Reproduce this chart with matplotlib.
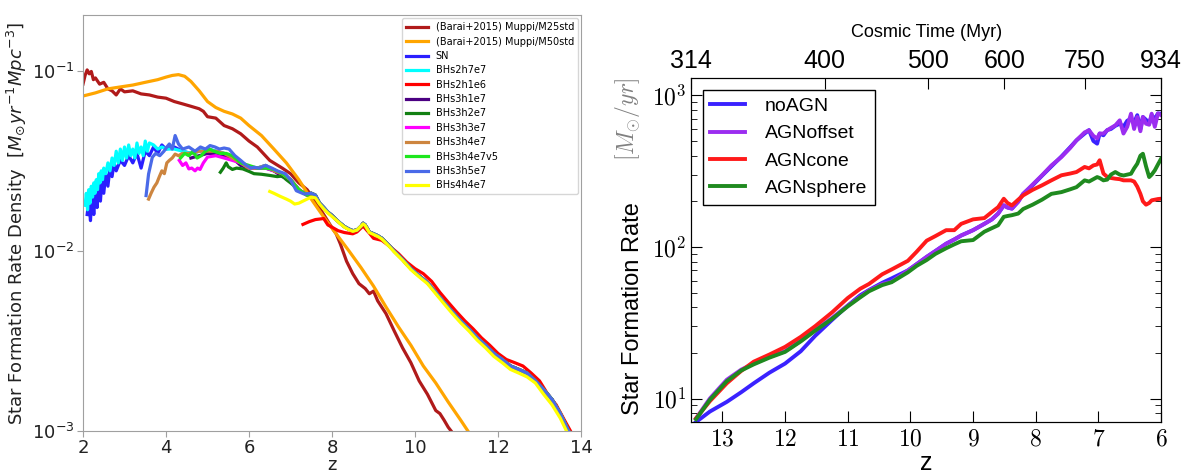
import numpy as np
import matplotlib
matplotlib.use("Agg")
import matplotlib.pyplot as plt
from matplotlib.ticker import NullFormatter, NullLocator

# ---------------- left panel : SFR density vs z ----------------
m25_z = [2.0, 2.05, 2.1, 2.15, 2.2, 2.25, 2.3, 2.4, 2.5, 2.6,
         2.7, 2.8, 2.9, 3.0, 3.2, 3.4, 3.6, 3.8, 4.0, 4.2,
         4.4, 4.6, 4.8, 4.9, 5.0, 5.2, 5.4, 5.6, 5.8, 6.0,
         6.2, 6.5, 6.8, 7.0, 7.2, 7.4, 7.6, 7.8, 8.0, 8.1,
         8.2, 8.35, 8.5, 8.65, 8.8, 8.9, 9.0, 9.1, 9.3, 9.5,
         9.7, 9.9, 10.1, 10.3, 10.5, 10.6, 10.7, 10.8, 10.9]
m25_sfr = [0.085, 0.095, 0.102, 0.097, 0.1, 0.09, 0.092, 0.085, 0.087, 0.08,
           0.078, 0.074, 0.08, 0.077, 0.078, 0.075, 0.074, 0.072, 0.071, 0.068,
           0.066, 0.064, 0.062, 0.06, 0.056, 0.055, 0.05, 0.048, 0.045, 0.041,
           0.038, 0.032, 0.029, 0.027, 0.024, 0.022, 0.019, 0.016, 0.0135, 0.0125,
           0.011, 0.0088, 0.0075, 0.0066, 0.0062, 0.0058, 0.006, 0.0053, 0.0045, 0.0036,
           0.0029, 0.0024, 0.0019, 0.0016, 0.0013, 0.00125, 0.00115, 0.00105, 0.00098]

m50_z = [2.0, 2.3, 2.6, 2.9, 3.2, 3.5, 3.8, 4.0, 4.15, 4.3,
         4.45, 4.6, 4.8, 5.0, 5.2, 5.4, 5.6, 5.8, 6.0, 6.3,
         6.6, 6.9, 7.2, 7.5, 7.8, 8.1, 8.4, 8.7, 9.0, 9.3,
         9.6, 9.9, 10.2, 10.5, 10.8, 11.1, 11.3]
m50_sfr = [0.073, 0.076, 0.08, 0.082, 0.084, 0.087, 0.09, 0.093, 0.095, 0.096,
           0.094, 0.088, 0.078, 0.068, 0.063, 0.06, 0.058, 0.055, 0.05, 0.044,
           0.037, 0.031, 0.025, 0.0195, 0.0155, 0.0125, 0.0101, 0.0081, 0.0064, 0.0049,
           0.0038, 0.0030, 0.0023, 0.00185, 0.00145, 0.00115, 0.00098]

# shared high-z part of the simulations
tail_z = [7.5, 7.6, 7.7, 7.8, 7.9, 8.0, 8.1, 8.2, 8.3, 8.4,
          8.5, 8.6, 8.7, 8.75, 8.8, 8.9, 9.0, 9.1, 9.2, 9.3,
          9.4, 9.5, 9.7, 9.9, 10.1, 10.3, 10.5, 10.7, 10.9, 11.1,
          11.3, 11.5, 11.7, 11.9, 12.1, 12.3, 12.5, 12.7, 12.9, 13.1,
          13.3, 13.5, 13.7, 13.8]
tail_sfr = [0.021, 0.0205, 0.0185, 0.0175, 0.0165, 0.0158, 0.015, 0.0143, 0.0137, 0.0133,
            0.013, 0.0131, 0.0138, 0.0143, 0.014, 0.0128, 0.0125, 0.0122, 0.0118, 0.0112,
            0.0106, 0.0100, 0.0090, 0.0080, 0.0073, 0.0067, 0.0059, 0.0052, 0.0046, 0.0041,
            0.0037, 0.0033, 0.0030, 0.0027, 0.0025, 0.0023, 0.0022, 0.0021, 0.0019, 0.0017,
            0.0015, 0.00125, 0.001, 0.00092]

sn_z = [2.10, 2.14, 2.18, 2.22, 2.26, 2.30, 2.34, 2.38, 2.42, 2.46,
        2.50, 2.55, 2.60, 2.65, 2.70, 2.75, 2.80, 2.90, 3.00, 3.10,
        3.20, 3.30, 3.40, 3.50, 3.60, 3.70, 3.80, 3.90, 4.00, 4.20,
        4.40, 4.60, 4.80, 5.00, 5.20, 5.40, 5.60, 5.80, 6.00, 6.20,
        6.40, 6.60, 6.80, 7.00, 7.20, 7.40]
sn_sfr = [0.016, 0.019, 0.0148, 0.021, 0.016, 0.022, 0.0175, 0.024, 0.019, 0.026,
          0.021, 0.027, 0.023, 0.029, 0.026, 0.031, 0.028, 0.032, 0.030, 0.034,
          0.031, 0.035, 0.029, 0.036, 0.034, 0.038, 0.035, 0.039, 0.037, 0.038,
          0.036, 0.035, 0.036, 0.037, 0.036, 0.035, 0.033, 0.031, 0.029, 0.029,
          0.030, 0.028, 0.027, 0.025, 0.022, 0.0205]

bh2h7e7_z = [2.05, 2.08, 2.11, 2.14, 2.17, 2.20, 2.23, 2.26, 2.29, 2.32,
             2.35, 2.38, 2.41, 2.44, 2.47, 2.50, 2.55, 2.60, 2.65, 2.70,
             2.75, 2.80, 2.85, 2.90, 2.95, 3.00, 3.05, 3.10, 3.15, 3.20,
             3.25, 3.30, 3.35, 3.40, 3.45, 3.50, 3.55, 3.60, 3.70, 3.80,
             3.90, 4.00, 4.20, 4.40, 4.60, 4.80, 5.00, 5.20, 5.40, 5.60,
             5.80, 6.00, 6.20, 6.40, 6.60, 6.80, 7.00, 7.20, 7.40]
bh2h7e7_sfr = [0.018, 0.021, 0.017, 0.022, 0.0185, 0.023, 0.02, 0.024, 0.021, 0.025,
               0.022, 0.027, 0.024, 0.028, 0.025, 0.029, 0.027, 0.031, 0.028, 0.033,
               0.030, 0.036, 0.031, 0.037, 0.032, 0.038, 0.033, 0.039, 0.034, 0.037,
               0.033, 0.040, 0.035, 0.038, 0.034, 0.041, 0.036, 0.040, 0.039, 0.037,
               0.038, 0.037, 0.037, 0.036, 0.035, 0.036, 0.037, 0.036, 0.035, 0.033,
               0.031, 0.029, 0.029, 0.030, 0.028, 0.027, 0.025, 0.022, 0.0205]

bh2h1e6_z = [7.3, 7.45, 7.6, 7.8, 7.9, 8.0, 8.15, 8.3, 8.5, 8.6,
             8.75, 8.9, 9.0, 9.2, 9.4, 9.6, 9.8, 10.0, 10.2, 10.4,
             10.6, 10.8, 11.0, 11.2, 11.4, 11.6, 11.8, 12.0, 12.2, 12.4,
             12.6, 12.8, 13.0, 13.2, 13.4, 13.6, 13.8]
bh2h1e6_sfr = [0.0141, 0.0146, 0.0150, 0.0152, 0.0140, 0.0136, 0.013, 0.0127, 0.0125, 0.0128,
               0.0138, 0.0126, 0.0118, 0.0115, 0.0106, 0.0097, 0.0087, 0.0080, 0.0075, 0.0068,
               0.0059, 0.0052, 0.0046, 0.0041, 0.0037, 0.0033, 0.0030, 0.0027, 0.0025, 0.0024,
               0.0023, 0.0021, 0.0019, 0.0016, 0.0014, 0.00115, 0.00095]

bh3h1e7_z = [4.6, 4.8, 5.0, 5.2, 5.4, 5.6, 5.8, 6.0, 6.2, 6.4, 6.6, 6.8, 7.0, 7.2, 7.4]
bh3h1e7_sfr = [0.033, 0.034, 0.035, 0.035, 0.034, 0.033, 0.030, 0.029, 0.029, 0.029,
               0.028, 0.026, 0.025, 0.022, 0.0205]

bh3h2e7_z = [5.31, 5.38, 5.45, 5.5, 5.6, 5.7, 5.85, 6.0, 6.12, 6.3,
             6.5, 6.68, 6.8, 6.9, 7.0, 7.2, 7.4]
bh3h2e7_sfr = [0.0275, 0.029, 0.031, 0.0295, 0.0285, 0.029, 0.0287, 0.0278, 0.027, 0.0268,
               0.0264, 0.026, 0.0262, 0.025, 0.024, 0.022, 0.0205]

bh3h3e7_z = [4.32, 4.4, 4.48, 4.55, 4.62, 4.7, 4.76, 4.82, 4.9, 5.0,
             5.2, 5.4, 5.6, 5.8, 6.0, 6.2, 6.4, 6.6, 6.8, 7.0, 7.2, 7.4]
bh3h3e7_sfr = [0.032, 0.030, 0.031, 0.0287, 0.029, 0.028, 0.029, 0.0285, 0.031, 0.0334,
               0.034, 0.033, 0.032, 0.031, 0.029, 0.029, 0.029, 0.028, 0.027, 0.025, 0.022, 0.0205]

bh3h4e7_z = [3.58, 3.64, 3.71, 3.78, 3.84, 3.9, 3.96, 4.02, 4.08, 4.15,
             4.22, 4.3, 4.4, 4.6, 4.8, 5.0, 5.2, 5.4, 5.6, 5.8,
             6.0, 6.2, 6.4, 6.6, 6.8, 7.0, 7.2, 7.4]
bh3h4e7_sfr = [0.0195, 0.021, 0.0227, 0.024, 0.026, 0.028, 0.027, 0.031, 0.032, 0.033,
               0.0347, 0.034, 0.035, 0.035, 0.036, 0.036, 0.036, 0.035, 0.033, 0.031,
               0.029, 0.029, 0.030, 0.028, 0.027, 0.025, 0.022, 0.0205]

bh3h4e7v5_z = [4.35, 4.45, 4.55, 4.65, 4.75, 4.85, 4.95, 5.05, 5.15, 5.3,
               5.45, 5.6, 5.8, 6.0, 6.2, 6.4, 6.6, 6.8, 7.0, 7.2, 7.4]
bh3h4e7v5_sfr = [0.033, 0.035, 0.034, 0.036, 0.033, 0.034, 0.036, 0.037, 0.036, 0.035,
                 0.035, 0.034, 0.031, 0.030, 0.029, 0.029, 0.0285, 0.027, 0.025, 0.022, 0.0205]

bh3h5e7_z = [3.52, 3.58, 3.67, 3.75, 3.85, 3.95, 4.02, 4.08, 4.15, 4.22,
             4.3, 4.4, 4.55, 4.7, 4.83, 4.95, 5.06, 5.18, 5.29, 5.4,
             5.52, 5.66, 5.8, 5.94, 6.05, 6.12, 6.25, 6.4, 6.55, 6.68,
             6.87, 7.0, 7.14, 7.33]
bh3h5e7_sfr = [0.0204, 0.0269, 0.0333, 0.035, 0.034, 0.036, 0.038, 0.0395, 0.037, 0.044,
               0.0395, 0.037, 0.038, 0.036, 0.038, 0.037, 0.0387, 0.038, 0.037, 0.0375,
               0.037, 0.034, 0.032, 0.030, 0.029, 0.0293, 0.029, 0.030, 0.029, 0.028,
               0.027, 0.025, 0.0217, 0.0208]

bh4h4e7_z = [6.5, 6.6, 6.75, 6.9, 7.0, 7.1, 7.2, 7.3, 7.4, 7.5,
             7.6, 7.7, 7.8, 7.9, 8.0, 8.1, 8.2, 8.3, 8.4, 8.5,
             8.6, 8.7, 8.75, 8.8, 8.9, 9.0, 9.1, 9.2, 9.3, 9.4,
             9.5, 9.7, 9.9, 10.1, 10.3, 10.5, 10.7, 10.9, 11.1, 11.3,
             11.5, 11.7, 11.9, 12.1, 12.3, 12.5, 12.7, 12.9, 13.1, 13.3,
             13.5, 13.65, 13.75]
bh4h4e7_sfr = [0.0215, 0.021, 0.0202, 0.0195, 0.019, 0.0183, 0.0185, 0.019, 0.0195, 0.020,
               0.0198, 0.0183, 0.0172, 0.0163, 0.0156, 0.0149, 0.0142, 0.0136, 0.0132, 0.0129,
               0.0131, 0.0138, 0.0142, 0.0139, 0.0127, 0.0124, 0.0121, 0.0117, 0.0111, 0.0105,
               0.0099, 0.0089, 0.0079, 0.0072, 0.0066, 0.0058, 0.0051, 0.0045, 0.0040, 0.0036,
               0.0032, 0.0029, 0.0026, 0.0024, 0.0022, 0.0021, 0.0020, 0.00185, 0.0016, 0.0014,
               0.00118, 0.001, 0.0009]

left_series = [
    ("(Barai+2015) Muppi/M25std", m25_z, m25_sfr, False, "#b01a1a"),
    ("(Barai+2015) Muppi/M50std", m50_z, m50_sfr, False, "#ffa500"),
    ("SN", sn_z, sn_sfr, True, "#2a1fff"),
    ("BHs2h7e7", bh2h7e7_z, bh2h7e7_sfr, True, "#00ffff"),
    ("BHs2h1e6", bh2h1e6_z, bh2h1e6_sfr, False, "#ff0000"),
    ("BHs3h1e7", bh3h1e7_z, bh3h1e7_sfr, True, "#4b0082"),
    ("BHs3h2e7", bh3h2e7_z, bh3h2e7_sfr, True, "#128012"),
    ("BHs3h3e7", bh3h3e7_z, bh3h3e7_sfr, True, "#ff00ff"),
    ("BHs3h4e7", bh3h4e7_z, bh3h4e7_sfr, True, "#cd853f"),
    ("BHs3h4e7v5", bh3h4e7v5_z, bh3h4e7v5_sfr, True, "#1ee61e"),
    ("BHs3h5e7", bh3h5e7_z, bh3h5e7_sfr, True, "#4a6ae8"),
    ("BHs4h4e7", bh4h4e7_z, bh4h4e7_sfr, False, "#ffff00"),
]

# ---------------- right panel : SFR vs z ----------------
r_z = [13.42, 13.2, 12.93, 12.7, 12.5, 12.25, 12.0, 11.75, 11.52, 11.25,
       11.0, 10.8, 10.66, 10.45, 10.3, 10.04, 9.9, 9.74, 9.6, 9.43,
       9.3, 9.19, 9.0, 8.82, 8.7, 8.6, 8.51, 8.45, 8.38, 8.28,
       8.2, 8.05, 7.9, 7.75, 7.59, 7.45, 7.35, 7.22, 7.15, 7.08,
       7.02, 6.98, 6.92, 6.86, 6.8, 6.73, 6.66, 6.6, 6.54, 6.48,
       6.43, 6.38, 6.33, 6.29, 6.24, 6.19, 6.15, 6.1, 6.05, 6.0]
noagn = [7.0, 8.2, 9.5, 11.0, 12.6, 14.8, 17.0, 20.5, 25.9, 33.0,
         41, 48, 52, 58, 62, 70, 77, 86, 94, 105,
         112, 119, 129, 142, 152, 166, 188, 182, 179, 200,
         224, 255, 295, 340, 395, 455, 505, 560, 590, 500,
         480, 560, 545, 590, 600, 630, 650, 620, 680, 700,
         660, 740, 600, 720, 690, 650, 740, 700, 760, 757]
agnoffset = [7.4, 10.0, 13.3, 15.5, 17.0, 18.8, 20.5, 24.0, 28.3, 34.0,
             41, 47, 51.7, 57, 59, 70, 77, 86, 94, 105,
             112, 119, 129, 142, 152, 166, 188, 182, 179, 198,
             224, 258, 297, 345, 392, 450, 505, 570, 588, 540,
             520, 560, 560, 588, 610, 634, 684, 560, 620, 757,
             600, 720, 580, 720, 650, 640, 757, 620, 760, 740]
agncone = [7.4, 9.6, 12.6, 15.2, 17.5, 19.5, 21.9, 25.5, 30, 37,
           46, 53, 57, 66, 71, 81, 93, 110, 118, 129,
           129, 142, 152, 155, 170, 183, 208, 195, 188, 205,
           219, 238, 255, 275, 297, 305, 312, 337, 330, 345,
           350, 373, 305, 290, 285, 282, 280, 275, 275, 275,
           270, 250, 224, 200, 190, 195, 203, 205, 207, 208]
agnsphere = [7.3, 9.8, 13.0, 15.3, 16.8, 18.6, 20.3, 23.8, 28.0, 33.5,
             40.5, 46.5, 51, 56, 58.5, 68, 75, 82, 90, 98,
             104, 109, 111, 126, 133, 139, 158, 160, 162, 166,
             178, 190, 205, 224, 230, 240, 248, 275, 270, 280,
             289, 285, 275, 278, 300, 312, 300, 296, 300, 304,
             330, 354, 400, 412, 340, 289, 300, 320, 350, 382]
right_series = [("noAGN", noagn, "#3a22ff"), ("AGNoffset", agnoffset, "#9b2df0"),
                ("AGNcone", agncone, "#ff1a1a"), ("AGNsphere", agnsphere, "#1f8a1f")]

z_ticks = [13, 12, 11, 10, 9, 8, 7, 6]
time_tick_z = [13.5, 11.37, 9.72, 8.5, 7.22, 6.0]
time_tick_labels = ["314", "400", "500", "600", "750", "934"]

#-----------------------figure-----------------------
fig = plt.figure(figsize=(11.96, 4.75), dpi=100)

ax1 = fig.add_axes([0.0694, 0.0926, 0.4164, 0.875])
for name, z, sfr, use_tail, col in left_series:
    if use_tail:
        z = np.concatenate([z, tail_z])
        sfr = np.concatenate([sfr, tail_sfr])
    ax1.plot(z, sfr, color=col, lw=2.3, label=name)
ax1.set_yscale("log")
ax1.set_xlim(2, 14)
ax1.set_ylim(1e-3, 0.205)
ax1.yaxis.set_minor_locator(NullLocator())
ax1.set_xticks([2, 4, 6, 8, 10, 12, 14])
for s in ax1.spines.values():
    s.set_color("#a0a0a0")
ax1.tick_params(direction="out", length=4, color="#a0a0a0", labelsize=13,
                labelcolor="#222222", pad=2)
ax1.set_xlabel("z", fontsize=13, labelpad=-1, color="#222222")
ax1.set_ylabel("Star Formation Rate Density  $[M_{\\odot}yr^{-1}Mpc^{-3}]$",
               fontsize=13, color="#222222", labelpad=2)
ax1.legend(loc="upper right", fontsize=7, handlelength=2.3, labelspacing=0.45,
           borderaxespad=0.3, edgecolor="#cccccc")

ax2 = fig.add_axes([0.5778, 0.1116, 0.393, 0.724])
for name, sfr, col in right_series:
    ax2.plot(r_z, sfr, color=col, lw=2.8, label=name)
ax2.set_yscale("log")
ax2.set_xlim(13.5, 6)
ax2.set_ylim(7, 1300)
ax2.set_xticks(z_ticks, labels=["$%d$" % v for v in z_ticks])
ax2.set_yticks([10, 100, 1000], labels=["$10^{1}$", "$10^{2}$", "$10^{3}$"])
ax2.yaxis.set_minor_formatter(NullFormatter())
for t in ax2.get_xticklabels() + ax2.get_yticklabels():
    t.set_math_fontfamily("cm")
ax2.tick_params(which="both", direction="in", top=False, right=True, labelsize=17)
ax2.tick_params(which="major", length=8)
ax2.tick_params(which="minor", length=4)
ax2.set_xlabel("z", fontsize=18, family="Liberation Sans", labelpad=0)
ax2.set_ylabel("Star Formation Rate", fontsize=17, family="Liberation Sans",
               y=0.33, labelpad=6)
ax2.text(-0.136, 0.88, "$[M_{\\odot}/yr]$", fontsize=17, math_fontfamily="cm",
         rotation=90, color="#808080", ha="center", va="center",
         transform=ax2.transAxes)
leg = ax2.legend(loc="upper left", prop={"family": "Liberation Sans", "size": 14},
                 fancybox=False, edgecolor="black", framealpha=1, handlelength=1.8,
                 handletextpad=1.0, borderaxespad=0.6)
leg.get_frame().set_linewidth(1.0)

ax3 = ax2.twiny()
ax3.set_xlim(ax2.get_xlim())
ax3.set_xticks(time_tick_z, labels=time_tick_labels)
ax3.tick_params(direction="in", length=8, labelsize=18, pad=4)
for t in ax3.get_xticklabels():
    t.set_family("Liberation Sans")
ax3.set_xlabel("Cosmic Time (Myr)", fontsize=13, family="Liberation Sans", labelpad=8)

fig.savefig("out.png", dpi=100)
